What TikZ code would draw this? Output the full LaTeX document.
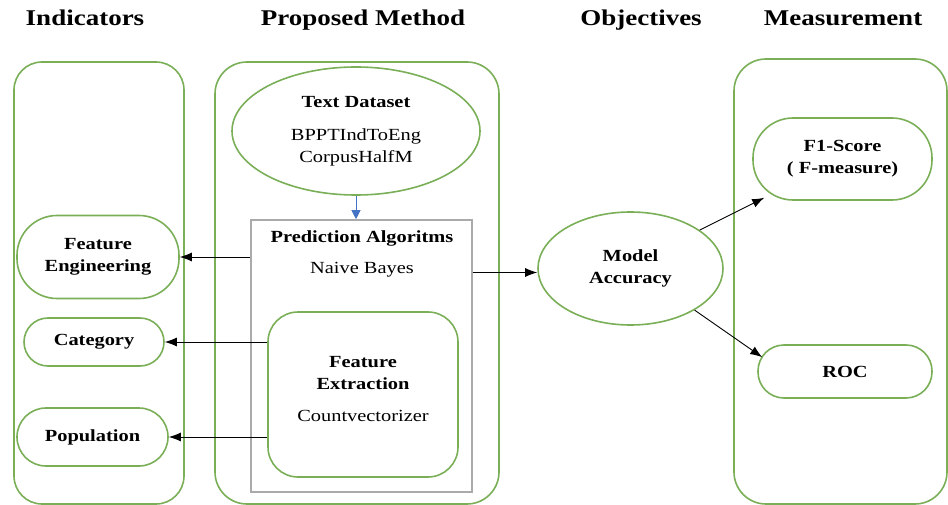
\documentclass[tikz,border=0pt]{standalone}
\usepackage{fontspec}
\setmainfont{Liberation Serif}[FakeStretch=1.2]
\usetikzlibrary{shapes.geometric,arrows.meta}
\definecolor{grn}{RGB}{122,175,88}
\definecolor{gry}{RGB}{170,170,170}
\definecolor{blu}{RGB}{68,114,196}
\tikzset{
  bigbox/.style={draw=grn,line width=1.6pt,rounded corners=28pt,inner sep=0pt},
  pill/.style={draw=grn,line width=1.6pt,inner sep=0pt,align=center,font=\fontsize{17}{22}\selectfont\bfseries},
  oval/.style={draw=grn,line width=1.6pt,ellipse,inner sep=0pt,align=center,font=\fontsize{17}{22}\selectfont},
  title/.style={anchor=base,font=\fontsize{22.5}{27}\selectfont\bfseries},
  txt/.style={align=center,font=\fontsize{17}{22}\selectfont},
  arr/.style={line width=0.9pt,-{Latex[length=12pt,width=9pt]}},
}
\begin{document}
\begin{tikzpicture}[x=1pt,y=-1pt]
\useasboundingbox (0,0) rectangle (948,505);
% titles
\node[title] (t1) at (85,26) {Indicators};
\node[title] (t2) at (363,26) {Proposed Method};
\node[title] (t3) at (641,26) {Objectives};
\node[title] (t4) at (843,26) {Measurement};
% big boxes
\node[bigbox,minimum width=170pt,minimum height=442pt] (ind) at (99,283) {};
\node[bigbox,minimum width=284pt,minimum height=442pt,rounded corners=32pt] (prop) at (357,283) {};
\node[bigbox,minimum width=213pt,minimum height=445pt,rounded corners=32pt] (meas) at (840.5,281.5) {};
% indicators
\node[pill,minimum width=162pt,minimum height=83pt,rounded corners=40pt] (fe) at (98,257) {Feature\\Engineering};
\node[pill,minimum width=140pt,minimum height=48pt,rounded corners=24pt] (cat) at (94,342) {Category};
\node[pill,minimum width=151pt,minimum height=58pt,rounded corners=29pt] (pop) at (92.5,437) {Population};
% proposed
\node[oval,minimum width=248pt,minimum height=128pt] (td) at (356,131) {\textbf{Text Dataset}\\[11pt]BPPTIndToEng\\ CorpusHalfM};
\node[draw=gry,line width=1.6pt,minimum width=221pt,minimum height=272pt,inner sep=0pt] (pred) at (361.5,356) {};
\node[txt,font=\fontsize{17}{22}\selectfont\bfseries] (predl) at (362,238) {Prediction Algoritms};
\node[txt] (nb) at (362,270) {Naive Bayes};
\node[draw=grn,line width=1.6pt,minimum width=190pt,minimum height=165pt,rounded corners=30pt,inner sep=0pt] (fx) at (363,394.5) {};
\node[txt] (fxl) at (363,389) {\textbf{Feature}\\ \textbf{Extraction}\\[10pt]Countvectorizer};
% objectives
\node[oval,minimum width=185pt,minimum height=113pt,font=\fontsize{17}{22}\selectfont\bfseries] (ma) at (630.5,268.5) {Model\\ Accuracy};
% measurement
\node[pill,minimum width=179pt,minimum height=82pt,rounded corners=40pt] (f1) at (842.5,159) {F1-Score\\( F-measure)};
\node[pill,minimum width=174pt,minimum height=53pt,rounded corners=26pt] (roc) at (845,371.5) {ROC};
% connectors
\draw[line width=0.9pt,blu,-{Triangle[length=9pt,width=9pt]}] (td.south) -- (td.south |- pred.north);
\draw[arr] (pred.west |- fe.east) -- (fe.east);
\draw[arr] (fx.west |- cat.east) -- (cat.east);
\draw[arr] (fx.west |- pop.east) -- (pop.east);
\draw[arr] ([yshift=-4pt]pred.east |- ma.west) -- ([yshift=-4pt]ma.west);
\draw[arr] (ma.29) -- ([xshift=12pt,yshift=3pt]f1.south west);
\draw[arr] (ma.-33) -- ([xshift=5pt,yshift=-13pt]roc.north west);
\end{tikzpicture}
\end{document}
